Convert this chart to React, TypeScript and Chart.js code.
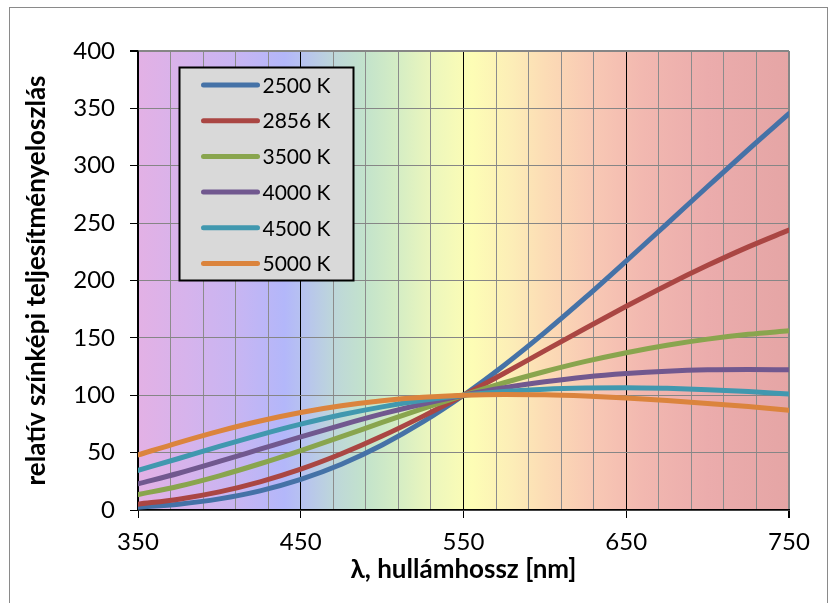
import React, { useEffect, useRef } from "react";
import { Chart, registerables } from "chart.js";

Chart.register(...registerables);

// ---- data ----
const wavelengths = [350, 375, 400, 425, 450, 475, 500, 525, 550, 575, 600, 625, 650, 675, 700, 725, 750];
const s2500 = [2.4, 5.1, 9.7, 16.7, 26.7, 39.9, 56.6, 76.7, 100, 126.2, 154.8, 185.2, 217.0, 249.4, 281.9, 314.1, 345.4];
const s2856 = [5.1, 9.4, 15.8, 24.5, 35.6, 49.0, 64.4, 81.6, 100, 119.2, 138.9, 158.4, 177.5, 195.9, 213.2, 229.3, 244.0];
const s3500 = [13.4, 20.7, 29.8, 40.3, 51.8, 63.9, 76.3, 88.4, 100, 110.9, 120.7, 129.5, 137.1, 143.6, 148.9, 153.1, 156.2];
const s4000 = [22.8, 32.0, 42.3, 53.0, 63.7, 74.0, 83.7, 92.4, 100, 106.5, 111.7, 115.9, 118.9, 121.0, 122.2, 122.5, 122.2];
const s4500 = [34.5, 44.9, 55.4, 65.5, 74.8, 83.0, 89.9, 95.6, 100, 103.2, 105.3, 106.3, 106.6, 106.0, 104.9, 103.2, 101.1];
const s5000 = [48.0, 58.8, 68.8, 77.6, 85.0, 90.8, 95.2, 98.2, 100, 100.7, 100.4, 99.3, 97.7, 95.5, 92.9, 90.1, 87.0];

const seriesLabels = ["2500 K", "2856 K", "3500 K", "4000 K", "4500 K", "5000 K"];
const seriesValues = [s2500, s2856, s3500, s4000, s4500, s5000];
const seriesColors = ["#4572A7", "#AA4643", "#89A54E", "#71588F", "#4198AF", "#DB843D"];

const xTitle = "λ, hullámhossz [nm]";
const yTitle = "relatív színképi teljesítményeloszlás";

// spectrum background stops: [wavelength, colour]
const spectrumStops: [number, string][] = [
  [350, "#E3B1E5"],
  [380, "#D6B3EC"],
  [410, "#C8B5F2"],
  [440, "#B3B7FA"],
  [455, "#B8C6EC"],
  [470, "#BDD6DA"],
  [490, "#C3E3CB"],
  [510, "#D5EDC4"],
  [530, "#ECF6BD"],
  [555, "#FDFDB5"],
  [580, "#FCEDB7"],
  [600, "#FCDCB5"],
  [630, "#F8C8B4"],
  [660, "#F2B8B0"],
  [700, "#EBACAC"],
  [750, "#E5A5A5"],
];

const FONT = "Lato, 'Open Sans', sans-serif";

const backgroundPlugin = {
  id: "spectrumBg",
  beforeDraw(chart: any) {
    const { ctx, chartArea, scales } = chart;
    ctx.save();
    // outer chart frame
    ctx.strokeStyle = "#8a8a8a";
    ctx.lineWidth = 1;
    ctx.strokeRect(9.5, 7.5, 818, 620);
    const x = scales.x;
    const g = ctx.createLinearGradient(chartArea.left, 0, chartArea.right, 0);
    const span = x.max - x.min;
    spectrumStops.forEach(([w, c]) => g.addColorStop((w - x.min) / span, c));
    ctx.fillStyle = g;
    ctx.fillRect(chartArea.left, chartArea.top, chartArea.right - chartArea.left, chartArea.bottom - chartArea.top);
    ctx.restore();
  },
};

const legendPlugin = {
  id: "boxLegend",
  afterDraw(chart: any) {
    const { ctx, chartArea } = chart;
    const left = chartArea.left + 41.5;
    const top = chartArea.top + 16.5;
    const w = 174;
    const h = 213;
    ctx.save();
    ctx.fillStyle = "#D9D9D9";
    ctx.fillRect(left, top, w, h);
    ctx.strokeStyle = "#000";
    ctx.lineWidth = 2;
    ctx.strokeRect(left, top, w, h);
    chart.data.datasets.forEach((ds: any, i: number) => {
      const cy = top + 17.5 + i * 35.7;
      ctx.strokeStyle = ds.borderColor;
      ctx.lineWidth = 5;
      ctx.lineCap = "round";
      ctx.beginPath();
      ctx.moveTo(left + 24, cy);
      ctx.lineTo(left + 78, cy);
      ctx.stroke();
      ctx.fillStyle = "#000";
      ctx.font = `21px ${FONT}`;
      ctx.textBaseline = "middle";
      ctx.textAlign = "left";
      ctx.fillText(ds.label, left + 83, cy + 1);
    });
    ctx.restore();
  },
};

export default function App() {
  const ref = useRef<HTMLCanvasElement | null>(null);

  useEffect(() => {
    if (!ref.current) return;
    const datasets = seriesLabels.map((label, i) => ({
      label,
      data: wavelengths.map((w, j) => ({ x: w, y: seriesValues[i][j] })),
      borderColor: seriesColors[i],
      backgroundColor: seriesColors[i],
      borderWidth: 5,
      pointRadius: 0,
      cubicInterpolationMode: "monotone" as const,
      borderCapStyle: "round" as const,
      fill: false,
      order: seriesLabels.length - i,
    }));

    const isMajor = (v: number) => Math.round(v - 350) % 100 === 0;

    const chart = new Chart(ref.current, {
      type: "line",
      data: { datasets },
      plugins: [backgroundPlugin, legendPlugin],
      options: {
        responsive: false,
        animation: false,
        layout: { padding: { left: 0, right: 40, top: 51, bottom: 0 } },
        plugins: { legend: { display: false }, tooltip: { enabled: false } },
        scales: {
          x: {
            type: "linear",
            min: 350,
            max: 750,
            afterFit: (s: any) => {
              s.height = 93;
            },
            ticks: {
              stepSize: 20,
              autoSkip: false,
              maxRotation: 0,
              padding: 10,
              color: "#000",
              font: { family: FONT, size: 24 },
              callback: (v: any) => (isMajor(Number(v)) ? String(Math.round(Number(v))) : ""),
            },
            grid: {
              color: (c: any) => {
                const v = c.tick ? c.tick.value : 0;
                if (v === 750) return "#868686";
                return isMajor(v) ? "#000000" : "#8c8c8c";
              },
              lineWidth: (c: any) => (c.tick && c.tick.value === 750 ? 2 : 1),
              tickColor: (c: any) => (c.tick && isMajor(c.tick.value) ? "#000000" : "rgba(0,0,0,0)"),
              tickLength: 8,
            },
            border: { color: "#000", width: 1.5 },
            title: {
              display: true,
              text: xTitle,
              color: "#000",
              font: { family: FONT, size: 26, weight: "bold" },
              padding: { top: 0, bottom: 18 },
            },
          },
          y: {
            min: 0,
            max: 400,
            afterFit: (s: any) => {
              s.width = 138;
            },
            ticks: {
              stepSize: 50,
              padding: 15,
              color: "#000",
              font: { family: FONT, size: 24 },
            },
            grid: {
              color: "#868686",
              lineWidth: (c: any) => (c.tick && c.tick.value === 400 ? 2 : 1),
              tickColor: "#000",
              tickLength: 8,
            },
            border: { color: "#000", width: 1.5 },
            title: {
              display: true,
              text: yTitle,
              color: "#000",
              font: { family: FONT, size: 26, weight: "bold" },
              padding: { top: 21, bottom: 0 },
            },
          },
        },
      } as any,
    });
    return () => chart.destroy();
  }, []);

  return (
    <div style={{ position: "absolute", left: 0, top: 0, width: 829, height: 603, background: "#fff" }}>
      <canvas ref={ref} width={829} height={603} style={{ display: "block" }} />
    </div>
  );
}
